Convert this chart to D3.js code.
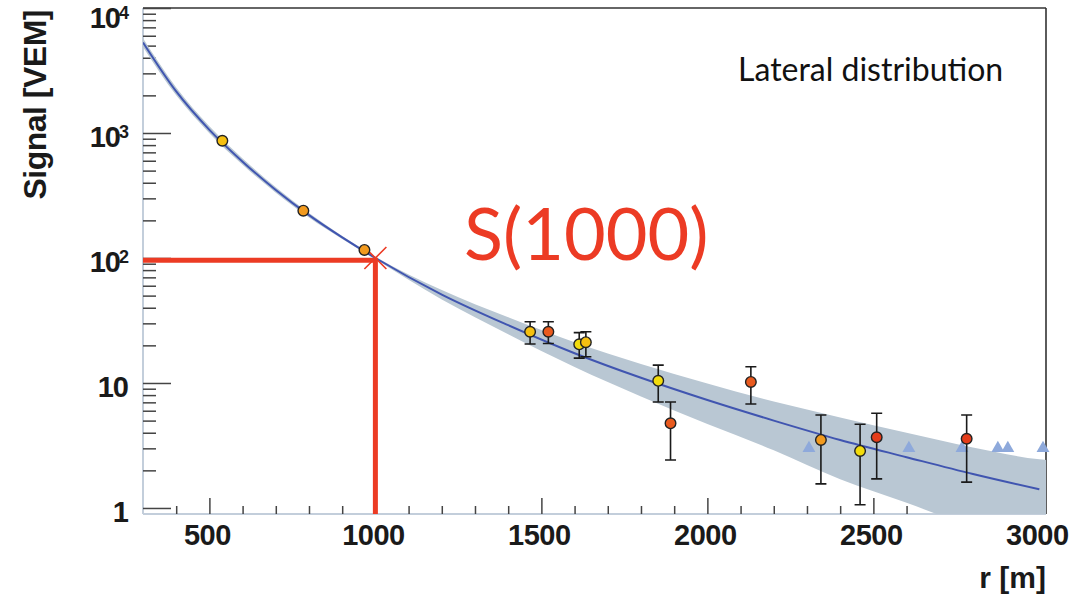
<!DOCTYPE html>
<html><head><meta charset="utf-8">
<script src="https://cdn.jsdelivr.net/npm/d3@7"></script>
<style>html,body{margin:0;padding:0;background:#fff}svg{display:block}</style>
</head><body>
<svg id="chart" width="1073" height="598"></svg>
<script>
// ---------------- data ----------------
// fitted lateral distribution function (S in VEM vs r in m)
const fitR      = [300, 400, 500, 600, 700, 800, 900, 1000, 1200, 1400, 1600, 1800, 2000, 2200, 2400, 2600, 2800, 3000];
const fitSignal = [5300, 2150, 1060, 590, 350, 220, 146, 100, 51, 29, 17.3, 11.0, 7.3, 5.0, 3.5, 2.55, 1.87, 1.41];
// uncertainty band of the fit
const bandR     = [300, 400, 500, 600, 700, 800, 900, 1000, 1200, 1400, 1600, 1800, 2000, 2200, 2400, 2600, 2800, 3000, 3020];
const bandUpper = [5720, 2310, 1130, 625, 368, 229, 150, 102.5, 55.5, 33.5, 21.2, 14.2, 9.9, 7.1, 5.3, 4.0, 3.05, 2.45, 2.42];
const bandLower = [4880, 2000, 995, 556, 333, 211, 142, 97.5, 46.5, 24.5, 13.4, 7.8, 4.7, 2.9, 1.7, 1.1, 0.69, 0.42, 0.40];
// triggered stations
const stationR      = [539, 783, 967, 1466, 1521, 1614, 1634, 1852, 1889, 2131, 2342, 2460, 2510, 2781];
const stationSignal = [867, 239, 116, 25.7, 25.7, 20.4, 21.2, 10.4, 4.76, 10.2, 3.5, 2.86, 3.68, 3.58];
const stationErrHi  = [null, null, null, 30.9, 30.9, 25.3, 25.7, 13.9, 7.05, 13.5, 5.55, 4.67, 5.72, 5.55];
const stationErrLo  = [null, null, null, 20.5, 20.7, 15.8, 16.2, 7.05, 2.42, 6.79, 1.56, 1.06, 1.71, 1.61];
const stationTiming = [1, 2, 2, 1, 3, 0, 1, 0, 3, 3, 2, 0, 4, 4]; // arrival-time class (colour)
// non-triggered (silent) stations drawn as triangles
const silentR      = [2306, 2607, 2767, 2875, 2905, 3011];
const silentSignal = [2.95, 2.95, 2.95, 2.95, 2.95, 2.95];
// S(1000) reference
const refR = 1000;
const refSignal = 96;
const refLabel = "S(1000)";
// axes
const xMajorTicks = [500, 1000, 1500, 2000, 2500, 3000];
const xTickLabels = ["500", "1000", "1500", "2000", "2500", "3000"];
const yDecades = [0, 1, 2, 3, 4];
const xTitle = "r [m]";
const yTitle = "Signal [VEM]";
const panelTitle = "Lateral distribution";

// ---------------- drawing ----------------
const svg = d3.select("#chart");
const L = 143, R = 1046, T = 8, B = 514;
const x = d3.scaleLinear().domain([300, 3020]).range([L, R]);
const y = d3.scaleLog().domain([0.895, 10000]).range([B, T]);
const timingColor = d3.scaleOrdinal().domain([0,1,2,3,4])
  .range(["#f3dc0c", "#f5bf10", "#f29a1e", "#e95a1e", "#e43c1a"]);
const red = "#ec3b24";

svg.append("rect").attr("width", 1073).attr("height", 598).attr("fill", "#fff");

const defs = svg.append("defs");
defs.append("clipPath").attr("id", "plot").append("rect")
  .attr("x", L).attr("y", T).attr("width", R - L).attr("height", B - T);

// frame
svg.append("line").attr("x1", L).attr("x2", R).attr("y1", T).attr("y2", T)
  .attr("stroke", "#333").attr("stroke-width", 1.6);
svg.append("line").attr("x1", R).attr("x2", R).attr("y1", T).attr("y2", B)
  .attr("stroke", "#333").attr("stroke-width", 1.6);
svg.append("line").attr("x1", L).attr("x2", L).attr("y1", T).attr("y2", B)
  .attr("stroke", "#c3cedb").attr("stroke-width", 2);
svg.append("line").attr("x1", L).attr("x2", R).attr("y1", B).attr("y2", B)
  .attr("stroke", "#c3cedb").attr("stroke-width", 2);

// y ticks
const allY = y.ticks().filter(v => v >= 1 && v <= 10000);
const yMajor = allY.filter(v => Math.abs(Math.log10(v) - Math.round(Math.log10(v))) < 1e-9);
const yMinor = allY.filter(v => !yMajor.includes(v));
function styleAxis(g) {
  g.select(".domain").remove();
  g.selectAll(".tick line").attr("stroke", "#444").attr("stroke-width", 1.5);
  g.selectAll(".tick text").remove();
}
svg.append("g").attr("transform", `translate(${L},0)`)
  .call(d3.axisRight(y).tickValues(yMajor).tickSize(28).tickFormat("")).call(styleAxis);
svg.append("g").attr("transform", `translate(${L},0)`)
  .call(d3.axisRight(y).tickValues(yMinor).tickSize(13).tickFormat("")).call(styleAxis);

// x ticks
const xMinor = d3.range(400, 3001, 100).filter(v => !xMajorTicks.includes(v));
svg.append("g").attr("transform", `translate(0,${B})`)
  .call(d3.axisTop(x).tickValues(xMajorTicks).tickSize(16).tickFormat("")).call(styleAxis);
svg.append("g").attr("transform", `translate(0,${B})`)
  .call(d3.axisTop(x).tickValues(xMinor).tickSize(8).tickFormat("")).call(styleAxis);

// band
const bandData = bandR.map((r, i) => ({r, hi: bandUpper[i], lo: bandLower[i]}));
const plotG = svg.append("g").attr("clip-path", "url(#plot)");
plotG.append("path").datum(bandData)
  .attr("fill", "#b9c7d3")
  .attr("d", d3.area().x(d => x(d.r)).y0(d => y(Math.max(d.lo, 0.3))).y1(d => y(d.hi))
    .curve(d3.curveMonotoneX));

// S(1000) red lines
svg.append("path")
  .attr("d", `M${L},${y(refSignal)}H${x(refR)}V${B}`)
  .attr("fill", "none").attr("stroke", red).attr("stroke-width", 5)
  .attr("stroke-linejoin", "miter");

// fit curve
const fitData = fitR.map((r, i) => ({r, s: fitSignal[i]}));
plotG.append("path").datum(fitData)
  .attr("fill", "none").attr("stroke", "#4055b0").attr("stroke-width", 2)
  .attr("d", d3.line().x(d => x(d.r)).y(d => y(d.s)).curve(d3.curveMonotoneX));

// red X marker at S(1000)
const cx0 = x(refR), cy0 = y(100);
svg.append("path")
  .attr("d", `M${cx0-11},${cy0-11}L${cx0+11},${cy0+11}M${cx0-11},${cy0+11}L${cx0+11},${cy0-11}`)
  .attr("stroke", red).attr("stroke-width", 1.6).attr("fill", "none");

// silent stations
svg.append("g").selectAll("path").data(silentR.map((r, i) => ({r, s: silentSignal[i]})))
  .join("path")
  .attr("transform", d => `translate(${x(d.r)},${y(d.s) - 1})`)
  .attr("d", d3.symbol(d3.symbolTriangle).size(72))
  .attr("fill", "#8ea9db");

// stations
const st = stationR.map((r, i) => ({r, s: stationSignal[i], hi: stationErrHi[i], lo: stationErrLo[i], t: stationTiming[i]}));
const eb = svg.append("g").attr("stroke", "#1a1a1a").attr("stroke-width", 1.6).attr("fill", "none");
st.filter(d => d.hi != null).forEach(d => {
  const px = x(d.r), y1 = y(d.hi), y2 = y(d.lo);
  eb.append("path").attr("d", `M${px},${y1}V${y2}M${px-5.5},${y1}H${px+5.5}M${px-5.5},${y2}H${px+5.5}`);
});
svg.append("g").selectAll("circle").data(st).join("circle")
  .attr("cx", d => x(d.r)).attr("cy", d => y(d.s)).attr("r", 5.3)
  .attr("fill", d => timingColor(d.t)).attr("stroke", "#222").attr("stroke-width", 1.4);

// y labels
const labelFont = "'Liberation Sans', Arial, Helvetica, sans-serif";
yDecades.forEach(d => {
  const ty = y(Math.pow(10, d));
  const t = svg.append("text").attr("x", 128).attr("y", Math.max(ty + 14.5, 28))
    .attr("text-anchor", "end").attr("font-family", labelFont).attr("font-weight", "bold")
    .attr("font-size", 29).attr("letter-spacing", -1).attr("fill", "#1a1a1a");
  if (d === 0) t.text("1");
  else if (d === 1) t.text("10");
  else {
    t.append("tspan").text("10");
    t.append("tspan").attr("font-size", 18).attr("dy", -9.5).attr("dx", -1).text(String(d));
  }
});

// x labels
xMajorTicks.forEach((v, i) => {
  svg.append("text").attr("x", x(v) - 2).attr("y", 545)
    .attr("text-anchor", "middle").attr("font-family", labelFont).attr("font-weight", "bold")
    .attr("font-size", 29).attr("letter-spacing", -0.5).attr("fill", "#1a1a1a").text(xTickLabels[i]);
});

// axis titles
svg.append("text").attr("transform", "translate(46,10) rotate(-90)")
  .attr("text-anchor", "end").attr("font-family", labelFont).attr("font-weight", "bold")
  .attr("font-size", 32).attr("letter-spacing", -0.5).attr("fill", "#1a1a1a").text(yTitle);
svg.append("text").attr("x", 1046).attr("y", 588)
  .attr("text-anchor", "end").attr("font-family", labelFont).attr("font-weight", "bold")
  .attr("font-size", 30).attr("fill", "#1a1a1a").text(xTitle);

// panel title
svg.append("text").attr("x", 738).attr("y", 81)
  .attr("font-family", "Lato, 'Open Sans', sans-serif").attr("font-size", 32)
  .attr("fill", "#111").text(panelTitle);

// S(1000) label
svg.append("text").attr("x", 464).attr("y", 260)
  .attr("font-family", "Lato, 'Open Sans', sans-serif").attr("font-size", 72)
  .attr("fill", red).text(refLabel);
</script>
</body></html>
